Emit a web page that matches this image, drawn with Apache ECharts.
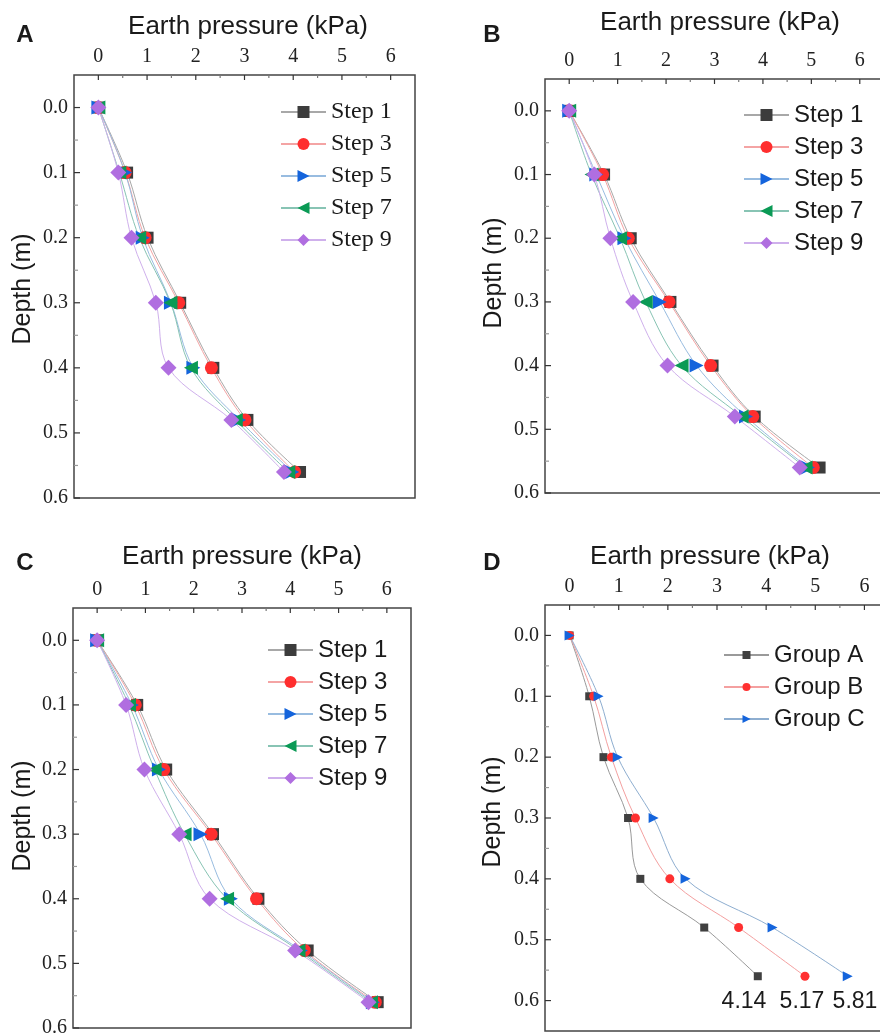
<!DOCTYPE html>
<html>
<head>
<meta charset="utf-8">
<script src="https://cdn.jsdelivr.net/npm/echarts@6/dist/echarts.min.js"></script>
<style>
  html, body { margin: 0; padding: 0; background: #fff; }
  #chart { width: 880px; height: 1033px; }
</style>
</head>
<body>
<div id="chart"></div>
<script>
// depth of each measuring point (m)
var depth = [0, 0.1, 0.2, 0.3, 0.4, 0.48, 0.56];

// panel A earth pressure (kPa)
var aStep1 = [0, 0.59, 1.01, 1.68, 2.36, 3.06, 4.14];
var aStep3 = [0, 0.55, 0.96, 1.65, 2.32, 3.01, 4.03];
var aStep5 = [0, 0.55, 0.91, 1.49, 1.95, 2.89, 3.98];
var aStep7 = [0, 0.43, 0.84, 1.48, 1.90, 2.82, 3.90];
var aStep9 = [0, 0.41, 0.68, 1.18, 1.44, 2.73, 3.81];

// panel B
var bStep1 = [0, 0.72, 1.27, 2.09, 2.96, 3.83, 5.17];
var bStep3 = [0, 0.69, 1.22, 2.06, 2.92, 3.79, 5.04];
var bStep5 = [0, 0.56, 1.14, 1.87, 2.63, 3.65, 4.93];
var bStep7 = [0, 0.46, 1.05, 1.58, 2.32, 3.56, 4.88];
var bStep9 = [0, 0.52, 0.85, 1.32, 2.03, 3.42, 4.76];

// panel C
var cStep1 = [0, 0.83, 1.43, 2.40, 3.34, 4.36, 5.81];
var cStep3 = [0, 0.79, 1.38, 2.36, 3.30, 4.29, 5.76];
var cStep5 = [0, 0.72, 1.28, 2.14, 2.77, 4.22, 5.71];
var cStep7 = [0, 0.66, 1.19, 1.81, 2.69, 4.17, 5.67];
var cStep9 = [0, 0.60, 0.98, 1.70, 2.33, 4.10, 5.62];

// panel D
var groupA = [0, 0.40, 0.69, 1.19, 1.44, 2.74, 3.83];
var groupB = [0, 0.49, 0.85, 1.34, 2.04, 3.44, 4.79];
var groupC = [0, 0.59, 0.98, 1.71, 2.36, 4.13, 5.66];
var maxLabels = ["4.14", "5.17", "5.81"];

var stepNames = ["Step 1", "Step 3", "Step 5", "Step 7", "Step 9"];
var groupNames = ["Group A", "Group B", "Group C"];
var xTicks = [0, 1, 2, 3, 4, 5, 6];
var xMinor = [0.5, 1.5, 2.5, 3.5, 4.5, 5.5];
var yTicks = [0, 0.1, 0.2, 0.3, 0.4, 0.5, 0.6];
var yMinor = [0.05, 0.15, 0.25, 0.35, 0.45, 0.55];

var SANS = "Liberation Sans, Arial, sans-serif";
var SERIF = "Liberation Serif, Times New Roman, serif";
var XMIN = -0.5, XMAX = 6.5, YMIN = -0.05;

// marker / line look for the five steps
var stepStyle = [
  { symbol: "rect", size: 12, rotate: 0, color: "#3c3c3c", line: "#a8a8a8" },
  { symbol: "circle", size: 13, rotate: 0, color: "#ff2e2e", line: "#f4a4a4" },
  { symbol: "triangle", size: 14, rotate: -90, color: "#1464dc", line: "#98bce0" },
  { symbol: "triangle", size: 14, rotate: 90, color: "#0a9a55", line: "#88c4b4" },
  { symbol: "diamond", size: 16, rotate: 0, color: "#b06ee0", line: "#cfb0ec" }
];
var groupStyle = [
  { symbol: "rect", size: 8, rotate: 0, color: "#404040", line: "#9a9a9a" },
  { symbol: "circle", size: 9, rotate: 0, color: "#ff3030", line: "#f4a0a0" },
  { symbol: "triangle", size: 10, rotate: -90, color: "#1464dc", line: "#8eaed0" }
];

// plot boxes
var boxes = [
  { left: 74, top: 75, width: 341, height: 423, ymax: 0.6 },
  { left: 545, top: 79, width: 339, height: 414, ymax: 0.6 },
  { left: 73, top: 608, width: 338, height: 420, ymax: 0.6 },
  { left: 545, top: 605, width: 344, height: 426, ymax: 0.65 }
];

var grids = [], xAxes = [], yAxes = [], series = [];

boxes.forEach(function(b, i) {
  grids.push({
    left: b.left, top: b.top, width: b.width, height: b.height,
    outerBoundsMode: "none", containLabel: false,
    show: true, borderColor: "#444", borderWidth: 1.5
  });
  xAxes.push({
    gridIndex: i, type: "value", position: "top", min: XMIN, max: XMAX,
    axisLine: { show: false, onZero: false }, splitLine: { show: false }, axisTick: { show: false },
    axisLabel: { customValues: xTicks, margin: 8, fontFamily: SERIF, fontSize: 20, color: "#222" }
  });
  yAxes.push({
    gridIndex: i, type: "value", position: "left", inverse: true, min: YMIN, max: b.ymax,
    axisLine: { show: false, onZero: false }, splitLine: { show: false }, axisTick: { show: false },
    axisLabel: {
      customValues: yTicks, margin: 6, fontFamily: SERIF, fontSize: 20, color: "#222",
      formatter: function(v) { return v.toFixed(1); }
    }
  });
});

// inward tick marks placed through the axis scales
function tickSeries(panel, dir, values, len, color) {
  return {
    type: "custom", xAxisIndex: panel, yAxisIndex: panel, silent: true, clip: false, z: 5,
    data: values.map(function(v) { return dir === "x" ? [v, YMIN] : [XMIN, v]; }),
    renderItem: function(params, api) {
      var p = api.coord([api.value(0), api.value(1)]);
      return {
        type: "line",
        shape: { x1: p[0], y1: p[1], x2: dir === "x" ? p[0] : p[0] + len, y2: dir === "x" ? p[1] + len : p[1] },
        style: { stroke: color, lineWidth: 1.2 }
      };
    }
  };
}

boxes.forEach(function(b, i) {
  series.push(tickSeries(i, "x", xTicks, 5, "#333"));
  series.push(tickSeries(i, "x", xMinor, 3, "#777"));
  series.push(tickSeries(i, "y", yTicks, 6, "#333"));
  series.push(tickSeries(i, "y", yMinor, 4, "#999"));
});

function pairs(vals) {
  return vals.map(function(v, k) { return [v, depth[k]]; });
}

function addSeries(panel, name, vals, st) {
  series.push({
    name: name, type: "line",
    xAxisIndex: panel, yAxisIndex: panel,
    data: pairs(vals), smooth: 0.35,
    symbol: st.symbol, symbolSize: st.size, symbolRotate: st.rotate,
    lineStyle: { color: st.line, width: 1 },
    itemStyle: { color: st.color },
    emphasis: { disabled: true }
  });
}

[[aStep1, aStep3, aStep5, aStep7, aStep9],
 [bStep1, bStep3, bStep5, bStep7, bStep9],
 [cStep1, cStep3, cStep5, cStep7, cStep9]].forEach(function(panel, p) {
  panel.forEach(function(vals, k) {
    addSeries(p, stepNames[k], vals, stepStyle[k]);
  });
});
[groupA, groupB, groupC].forEach(function(vals, k) {
  addSeries(3, groupNames[k], vals, groupStyle[k]);
});

function legendAt(left, top, names, family, ih) {
  return {
    orient: "vertical", left: left, top: top, data: names, padding: 0,
    itemWidth: 45, itemHeight: ih, itemGap: 8,
    selectedMode: false,
    textStyle: { fontFamily: family, fontSize: 24, lineHeight: 24, color: "#1a1a1a" }
  };
}

var legends = [
  legendAt(280, 100, stepNames, SERIF, 15),
  legendAt(743, 103, stepNames, SANS, 15),
  legendAt(267, 638, stepNames, SANS, 15),
  legendAt(723, 643, groupNames, SANS, 10)
];

function txt(x, y, s, size, opts) {
  opts = opts || {};
  return {
    type: "text", x: x, y: y, rotation: opts.rot || 0, silent: true,
    style: {
      text: s, fontSize: size, fontFamily: SANS, fontWeight: opts.bold ? "bold" : "normal",
      fill: "#1a1a1a", align: "center", verticalAlign: "middle"
    }
  };
}

var graphics = [
  txt(25, 35, "A", 24, { bold: true }),
  txt(492, 35, "B", 24, { bold: true }),
  txt(25, 563, "C", 24, { bold: true }),
  txt(492, 563, "D", 24, { bold: true }),
  txt(248, 27, "Earth pressure (kPa)", 26),
  txt(720, 23, "Earth pressure (kPa)", 26),
  txt(242, 557, "Earth pressure (kPa)", 26),
  txt(710, 557, "Earth pressure (kPa)", 26),
  txt(23, 289, "Depth (m)", 25, { rot: Math.PI / 2 }),
  txt(494, 273, "Depth (m)", 25, { rot: Math.PI / 2 }),
  txt(23, 816, "Depth (m)", 25, { rot: Math.PI / 2 }),
  txt(493, 812, "Depth (m)", 25, { rot: Math.PI / 2 }),
  txt(744, 1002, maxLabels[0], 23),
  txt(802, 1002, maxLabels[1], 23),
  txt(855, 1002, maxLabels[2], 23)
];

var myecharts = echarts.init(document.getElementById("chart"), null, { renderer: "canvas" });
myecharts.setOption({
  backgroundColor: "#fff",
  animation: false,
  grid: grids,
  xAxis: xAxes,
  yAxis: yAxes,
  legend: legends,
  series: series,
  graphic: graphics
});
</script>
</body>
</html>
